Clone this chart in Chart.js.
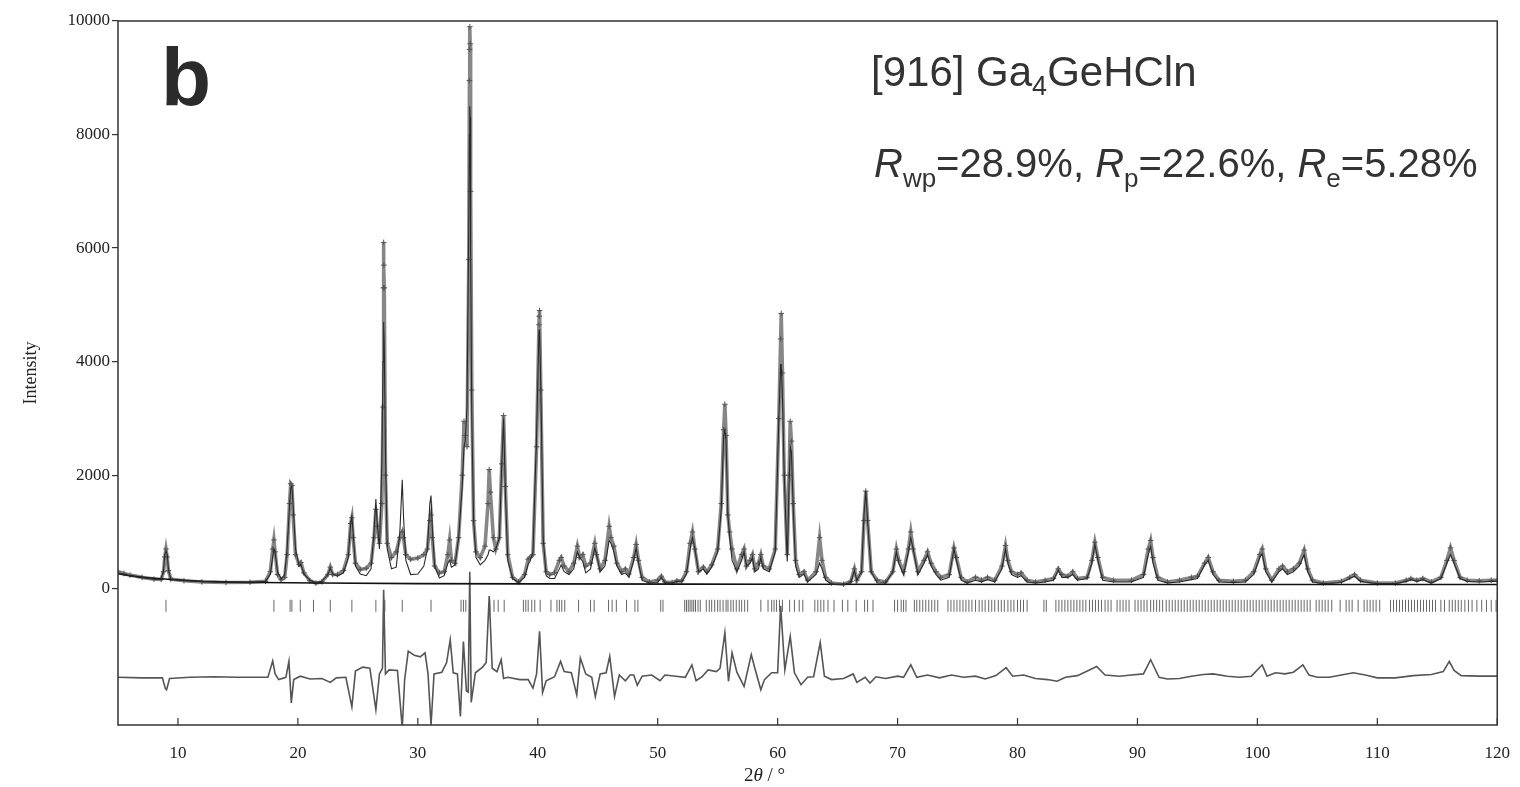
<!DOCTYPE html>
<html>
<head>
<meta charset="utf-8">
<title>[916] Ga4GeHCln</title>
<script src="https://cdn.jsdelivr.net/npm/chart.js@4.4.1/dist/chart.umd.min.js"></script>
<style>
  html, body { margin: 0; padding: 0; background: #fff; }
</style>
</head>
<body>
<canvas id="xrdChart" width="1520" height="787"></canvas>
<script>
// axis ticks
const xTickValues = [10, 20, 30, 40, 50, 60, 70, 80, 90, 100, 110, 120];
const yTickValues = [0, 2000, 4000, 6000, 8000, 10000];

// observed / calculated profile
const twoTheta = [
  5.0, 5.5, 6.0, 7.0, 8.0, 8.6, 8.8, 8.9, 9.0, 9.1, 9.2, 9.4, 10.5, 12.0, 14.0, 16.0, 17.3,
  17.7, 17.9, 18.0, 18.1, 18.3, 18.6, 18.9, 19.1, 19.3, 19.4, 19.5, 19.6, 19.8, 20.1, 20.25, 20.5,
  21.0, 21.5, 22.0, 22.5, 22.7, 22.9, 23.3, 23.8, 24.2, 24.4, 24.5, 24.6, 24.8,
  25.2, 25.7, 26.1, 26.35, 26.5, 26.6, 26.8, 27.0, 27.1, 27.13, 27.15, 27.17, 27.2, 27.3, 27.45,
  27.8, 28.2, 28.5, 28.7, 28.8, 29.0, 29.4, 30.0, 30.5, 30.8, 31.0, 31.1, 31.2, 31.4, 31.8,
  32.2, 32.5, 32.65, 32.8, 33.1, 33.4, 33.7, 33.85, 33.95, 34.1, 34.25, 34.3, 34.32, 34.34, 34.36,
  34.4, 34.5, 34.65, 34.85, 35.2, 35.6, 35.85, 35.95, 36.05, 36.3, 36.5, 36.8, 37.0, 37.15, 37.3, 37.5, 37.9,
  38.4, 38.9, 39.2, 39.35, 39.6, 39.9, 40.1, 40.12, 40.15, 40.25, 40.45, 40.7, 41.0, 41.4, 41.8, 41.95,
  42.2, 42.6, 43.0, 43.3, 43.5, 43.75, 44.0, 44.4, 44.75, 44.9, 45.2, 45.6, 45.95, 46.1, 46.35, 46.6,
  47.0, 47.3, 47.6, 48.0, 48.2, 48.4, 48.7,
  49.3, 50.0, 50.3, 50.6, 51.2, 51.6, 52.0, 52.4, 52.7, 52.9, 53.1, 53.4, 53.8, 54.1, 54.5, 55.0,
  55.3, 55.5, 55.6, 55.7, 55.85, 56.0, 56.2, 56.6, 57.0, 57.2, 57.4, 57.7, 57.9, 58.1, 58.4, 58.6,
  58.8, 59.3, 59.8,
  60.1, 60.25, 60.3, 60.4, 60.55, 60.8, 60.95, 61.05, 61.15, 61.3, 61.5, 61.8, 62.2, 62.5, 63.2,
  63.5, 63.7, 64.0, 64.5, 65.5, 66.1, 66.4, 66.6, 67.0, 67.2, 67.35, 67.5, 67.8, 68.3,
  69.0, 69.6, 69.9, 70.1, 70.5, 70.9, 71.1, 71.3, 71.7, 72.2, 72.5, 72.8, 73.2, 73.6, 74.3, 74.7,
  74.9, 75.3, 75.8, 76.5, 77.0, 77.5, 78.1, 78.7, 79.0, 79.2, 79.5, 80.0, 80.3, 80.8, 81.5, 82.3,
  83.0, 83.4, 83.7, 84.2, 84.6, 85.0, 85.8,
  86.2, 86.45, 86.7, 87.1, 88.0, 89.5, 90.5, 90.9, 91.1, 91.3, 91.7, 92.5, 93.5, 94.5, 95.0, 95.6,
  95.9, 96.3, 96.8, 98.0, 99.0, 99.7, 100.2, 100.4, 100.7, 101.2, 101.8, 102.1, 102.5, 103.0, 103.5,
  103.9, 104.2, 104.6, 105.5, 107.0, 107.7, 108.1, 108.6, 110.0, 111.5, 112.4, 112.8, 113.3, 113.8,
  114.5, 115.3, 115.8, 116.1, 116.4, 116.9, 117.5, 118.5, 119.5, 120.0
];
const yObs = [
  300, 270, 240, 200, 170, 165, 300, 560, 700, 560, 320, 170, 140, 120, 110, 115, 130,
  300, 700, 860, 650, 250, 160, 200, 600, 1500, 1850, 1820, 1300, 600, 430, 460, 280,
  140, 100, 120, 250, 380, 250, 250, 320, 600, 1150, 1250, 900, 450,
  340, 360, 450, 900, 1400, 1100, 800, 1500, 3200, 5300, 6100, 5700, 5300, 2000, 800,
  550, 650, 900, 1000, 900, 600, 520, 540, 600, 700, 1200, 1300, 900, 400, 280,
  300, 600, 860, 500, 450, 900, 2000, 2950, 2700, 2500, 5800, 8950, 9500, 9900, 9600,
  7000, 3500, 1200, 650, 550, 750, 1500, 2100, 1700, 900, 700, 900, 2200, 3050, 1800, 600, 200,
  120, 250, 520, 550, 600, 2500, 4650, 4800, 4900, 3500, 800, 300, 250, 280, 500, 550,
  400, 300, 450, 750, 550, 600, 400, 450, 800, 600, 350, 500, 1100, 900, 750, 450,
  300, 350, 260, 550, 780, 500, 200,
  120, 150, 220, 120, 110, 140, 140, 300, 800, 1000, 700, 300, 380, 300, 420, 700,
  1500, 2800, 3250, 2700, 1300, 1000, 700, 350, 600, 700, 400, 500, 600, 350, 450, 600,
  400, 350, 700,
  3000, 4400, 4850, 3800, 2000, 600, 2000, 2950, 2600, 1500, 500, 250, 300, 150, 300,
  900, 500, 200, 100, 80, 130, 350, 150, 300, 1200, 1720, 1200, 300, 150,
  120, 300, 700, 500, 300, 700, 1000, 700, 300, 500, 650, 450, 300, 200, 250, 720,
  550, 200, 120, 200, 150, 200, 150, 400, 760, 500, 300, 250, 280, 150, 120, 150,
  180, 350, 250, 220, 300, 180, 200,
  500, 820, 550, 200, 150, 150, 250, 700, 850, 550, 200, 120, 150, 200, 220, 450,
  550, 300, 150, 130, 150, 300, 600, 700, 350, 150, 350, 400, 300, 350, 450,
  680, 350, 150, 100, 130, 200, 250, 150, 100, 100, 150, 180, 150, 180,
  120, 200, 500, 720, 500, 200, 150, 140, 150, 150
];
const yCalc = [
  270, 250, 230, 195, 170, 165, 330, 600, 660, 610, 360, 170, 145, 125, 115, 115, 130,
  260, 560, 700, 640, 300, 170, 250, 700, 1450, 1780, 1800, 1500, 700, 400, 420, 260,
  150, 110, 130, 250, 360, 260, 220, 280, 550, 1150, 1270, 1000, 400,
  260, 230, 350, 1000, 1580, 1200, 700, 2200, 4000, 4600, 4700, 4650, 4300, 2400, 700,
  350, 380, 1000, 1920, 1300, 500, 250, 260, 400, 700, 1500, 1640, 1100, 400, 190,
  230, 450, 500, 380, 420, 900, 1800, 2500, 2600, 3200, 6500, 8000, 8400, 8500, 8300,
  6000, 3000, 1200, 550, 420, 500, 600, 680, 680, 650, 700, 900, 2200, 3000, 1700, 500, 180,
  110, 200, 430, 480, 650, 2700, 4550, 4560, 4550, 3600, 900, 230, 180, 180, 350, 420,
  300, 250, 350, 650, 550, 480, 280, 350, 720, 600, 300, 400, 850, 800, 650, 400,
  250, 280, 200, 500, 720, 450, 150,
  100, 110, 200, 110, 100, 130, 120, 260, 700, 900, 700, 300, 350, 260, 380, 650,
  1400, 2700, 2800, 2600, 1300, 900, 500, 300, 500, 650, 400, 450, 550, 300, 350, 550,
  350, 300, 650,
  3000, 3950, 3950, 3400, 2000, 480, 1800, 2500, 2400, 1400, 400, 200, 260, 120, 250,
  450, 350, 150, 80, 75, 110, 320, 150, 300, 1300, 1720, 1200, 300, 100,
  100, 300, 650, 450, 250, 650, 900, 700, 250, 450, 600, 400, 250, 150, 200, 700,
  500, 150, 100, 150, 120, 160, 120, 350, 700, 450, 250, 200, 230, 120, 100, 120,
  150, 330, 200, 200, 250, 150, 180,
  450, 780, 500, 150, 120, 120, 200, 600, 750, 450, 150, 100, 120, 160, 180, 420,
  500, 250, 120, 110, 120, 250, 550, 620, 300, 120, 300, 350, 250, 300, 400,
  600, 300, 120, 90, 110, 180, 220, 130, 90, 90, 130, 160, 130, 160,
  100, 180, 450, 600, 450, 180, 130, 120, 130, 130
];

// refined background
const bgTheta = [5, 6, 8, 10, 13, 17, 22, 30, 40, 60, 90, 120];
const bgVal = [265, 230, 185, 155, 125, 110, 100, 90, 85, 80, 75, 75];

// difference curve (plotted with its offset)
const diffTheta = [
  5, 7, 8.7, 8.95, 9.05, 9.3, 11, 13, 15, 17.5, 17.9, 18.1, 18.4, 19.0, 19.25, 19.45, 19.65,
  20.2, 21, 22, 22.7, 23.2, 24.0, 24.5, 24.8, 25.4, 26.0, 26.5, 26.8, 27.05, 27.15, 27.3, 27.6,
  28.3, 28.7, 28.9, 29.2, 29.7, 30.2, 30.6, 30.85, 31.1, 31.35, 32.0, 32.4, 32.7, 32.95, 33.3,
  33.55, 33.8, 34.05, 34.2, 34.33, 34.45, 34.8, 35.4, 35.7, 35.95, 36.2, 36.6, 36.95, 37.15,
  37.5, 38.5, 39.2, 39.6, 39.9, 40.15, 40.4, 40.7, 41.4, 41.9, 42.2, 42.8, 43.25, 43.55, 44.0,
  44.5, 44.8, 45.2, 45.7, 46.0, 46.4, 46.8, 47.3, 47.7, 48.0, 48.3, 48.7, 49.5, 50.2, 50.6,
  51.5, 52.3, 52.85, 53.2, 53.7, 54.2, 54.9, 55.2, 55.6, 55.9, 56.2, 56.6, 57.2, 57.8, 58.1,
  58.6, 58.9, 59.5, 60.0, 60.25, 60.6, 61.05, 61.4, 61.95, 62.5, 63.0, 63.55, 63.9, 64.5, 65.5,
  66.3, 66.6, 67.3, 67.7, 68.2, 69.0, 70.0, 70.5, 71.1, 71.6, 72.5, 73.5, 74.5, 75.5, 76.5,
  77.3, 78.2, 79.05, 79.6, 80.5, 81.5, 82.5, 83.3, 84.0, 85.0, 86.6, 87.3, 88.5, 89.5, 90.5,
  91.1, 91.8, 92.5, 93.5, 94.5, 95.5, 96.3, 97.5, 98.5, 99.5, 100.4, 100.8, 101.5, 102.3,
  103.0, 103.8, 104.3, 105.0, 106.0, 107.0, 108.0, 109.0, 110.0, 111.5, 113.0, 114.5, 115.5,
  116.0, 116.4, 117.0, 118.5, 120.0
];
const diffVal = [
  -1560, -1570, -1570, -1760, -1780, -1580, -1560, -1550, -1560, -1560, -1270, -1500, -1600, -1560, -1280, -2010, -1600,
  -1540, -1590, -1580, -1650, -1570, -1560, -2080, -1450, -1380, -1400, -2130, -1500, -1400, -20, -1500, -1430,
  -1440, -2450, -1600, -1100, -1170, -1200, -1130, -1500, -2400, -1500, -1470, -1300, -900, -1480, -1500,
  -2250, -930, -1800, -1820, 300, -2000, -1480, -1380, -1300, -130, -1400, -1460, -1250, -1580,
  -1560, -1600, -1600, -1750, -1500, -750, -1830, -1620, -1550, -1280, -1460, -1480, -1870, -1220, -1500,
  -1560, -1900, -1500, -1480, -1190, -1900, -1520, -1620, -1520, -1520, -1700, -1540, -1520, -1620, -1520,
  -1540, -1560, -1340, -1620, -1550, -1430, -1460, -1400, -775, -1630, -1130, -1470, -1720, -1160, -1400,
  -1780, -1600, -1480, -1480, -300, -1430, -840, -1480, -1690, -1560, -1550, -950, -1540, -1600, -1580,
  -1500, -1650, -1560, -1660, -1550, -1580, -1540, -1560, -1340, -1560, -1520, -1570, -1520, -1560, -1540,
  -1590, -1530, -1390, -1540, -1520, -1580, -1600, -1630, -1560, -1530, -1370, -1520, -1540, -1520, -1500,
  -1250, -1560, -1590, -1580, -1540, -1510, -1500, -1540, -1560, -1540, -1340, -1540, -1480, -1500,
  -1470, -1340, -1520, -1560, -1560, -1520, -1480, -1520, -1570, -1570, -1530, -1510, -1460,
  -1280, -1440, -1530, -1540, -1540
];

// Bragg reflection positions
const braggPos = [
  9.0, 18.0, 19.35, 19.5, 20.2, 21.3, 22.7, 24.5, 26.5, 27.25, 28.7, 31.1, 33.6, 33.8, 34.0, 34.33,
  36.0, 36.35, 36.7, 37.2, 38.8, 39.0, 39.2, 39.5, 39.75, 40.2, 41.1, 41.6, 41.8, 42.0, 42.25, 43.4,
  44.4, 44.7, 45.9, 46.2, 46.55, 47.4, 48.1, 48.35, 50.25, 50.44,
  52.25, 52.4, 52.55, 52.7, 52.85, 53.0, 53.15, 53.36, 53.55, 54.05, 54.3, 54.5, 54.75, 55.0, 55.2,
  55.45, 55.7, 55.86, 56.1, 56.3, 56.55, 56.8, 57.0, 57.25, 57.5, 58.6, 59.2, 59.5, 59.7, 59.9, 60.15,
  60.4, 61.0, 61.4, 61.8, 62.1, 63.1, 63.35, 63.6, 63.85, 64.2, 64.7, 65.4, 65.85, 66.55, 67.25, 67.5,
  67.95, 69.75, 70.0, 70.3, 70.5, 70.7, 71.4, 71.6, 71.85, 72.1, 72.35, 72.6, 72.85, 73.1, 73.35,
  74.2, 74.45, 74.7, 74.95, 75.2, 75.45, 75.7, 75.95, 76.2, 76.5, 76.8, 77.05, 77.3, 77.6, 77.85,
  78.1, 78.4, 78.65, 78.9, 79.2, 79.45, 79.7, 80.0, 80.25, 80.5, 80.8, 82.2, 82.4,
  83.2, 83.45, 83.7, 83.95, 84.2, 84.45, 84.7, 84.95, 85.2, 85.45, 85.7, 86.0, 86.25, 86.5, 86.75,
  87.0, 87.3, 87.55, 87.8, 88.3, 88.55, 88.8, 89.05, 89.3, 89.8, 90.05, 90.3, 90.55, 90.8, 91.1,
  91.35, 91.6, 91.85, 92.1, 92.4, 92.65, 92.9, 93.15, 93.4, 93.65, 93.9, 94.15, 94.4, 94.65, 94.9,
  95.15, 95.4, 95.65, 95.9, 96.15, 96.4, 96.65, 96.9, 97.15, 97.4, 97.65, 97.9, 98.15, 98.4, 98.65,
  98.9, 99.15, 99.4, 99.65, 99.9, 100.15, 100.4, 100.65, 100.9, 101.15, 101.4, 101.65, 101.9,
  102.15, 102.4, 102.65, 102.9, 103.15, 103.4, 103.65, 103.9, 104.15, 104.4, 104.9, 105.15, 105.4,
  105.65, 105.9, 106.2, 106.9, 107.4, 107.65, 107.9, 108.4, 108.9, 109.15, 109.4, 109.65, 109.9,
  110.2, 111.1, 111.35, 111.6, 111.85, 112.1, 112.35, 112.6, 112.85, 113.1, 113.35, 113.6, 113.85,
  114.1, 114.35, 114.6, 114.85, 115.3, 115.6, 116.0, 116.25, 116.5, 116.75, 117.0, 117.3, 117.6,
  117.9, 118.3, 118.7, 119.1, 119.5, 119.9
];
const braggRowLevel = -300;

const serif = "'Liberation Serif', 'DejaVu Serif', serif";
const sans = "'Liberation Sans', Arial, sans-serif";

function toPoints(xs, ys) {
  return xs.map((x, i) => ({ x: x, y: ys[i] }));
}

// draws a run of text pieces (for sub-scripts and italics)
function drawRich(ctx, parts, x, y) {
  let cx = x;
  parts.forEach((p) => {
    ctx.font = (p.italic ? "italic " : "") + (p.bold ? "bold " : "") + p.size + "px " + p.family;
    ctx.fillText(p.t, cx, y + (p.dy || 0));
    cx += ctx.measureText(p.t).width;
  });
}

const decorPlugin = {
  id: "decor",
  afterDraw(chart) {
    const ctx = chart.ctx;
    const area = chart.chartArea;
    const xScale = chart.scales.x;
    ctx.save();

    // frame
    ctx.strokeStyle = "#333";
    ctx.lineWidth = 1.5;
    ctx.strokeRect(area.left, area.top, area.right - area.left, area.bottom - area.top);

    // inward x ticks
    ctx.lineWidth = 1.2;
    xTickValues.forEach((v) => {
      const px = xScale.getPixelForValue(v);
      ctx.beginPath();
      ctx.moveTo(px, area.bottom);
      ctx.lineTo(px, area.bottom - 7);
      ctx.stroke();
    });

    ctx.textBaseline = "alphabetic";
    ctx.textAlign = "left";

    // panel letter
    ctx.fillStyle = "#2b2b2b";
    ctx.font = "bold 82px " + sans;
    ctx.fillText("b", 161, 105);

    // sample label and R factors
    ctx.fillStyle = "#333";
    drawRich(ctx, [
      { t: "[916] Ga", size: 42, family: sans },
      { t: "4", size: 27, family: sans, dy: 9 },
      { t: "GeHCln", size: 42, family: sans }
    ], 871, 86);
    drawRich(ctx, [
      { t: "R", size: 40, family: sans, italic: true },
      { t: "wp", size: 26, family: sans, dy: 10 },
      { t: "=28.9%, ", size: 40, family: sans },
      { t: "R", size: 40, family: sans, italic: true },
      { t: "p", size: 26, family: sans, dy: 10 },
      { t: "=22.6%, ", size: 40, family: sans },
      { t: "R", size: 40, family: sans, italic: true },
      { t: "e", size: 26, family: sans, dy: 10 },
      { t: "=5.28%", size: 40, family: sans }
    ], 874, 177);

    // x axis title
    ctx.fillStyle = "#222";
    drawRich(ctx, [
      { t: "2", size: 19, family: serif },
      { t: "\u03b8", size: 19, family: serif, italic: true },
      { t: " / \u00b0", size: 19, family: serif }
    ], 744, 781);

    ctx.restore();
  }
};

const ctx = document.getElementById("xrdChart").getContext("2d");
new Chart(ctx, {
  type: "line",
  data: {
    datasets: [
      {
        label: "Calculated",
        data: toPoints(twoTheta, yCalc),
        borderColor: "#2a2a2a",
        borderWidth: 1.1,
        pointRadius: 0,
        tension: 0,
        order: 0
      },
      {
        label: "Observed",
        data: toPoints(twoTheta, yObs),
        borderColor: "rgba(105,105,105,0.8)",
        borderWidth: 3.6,
        pointStyle: "cross",
        pointRadius: 2.8,
        pointBorderColor: "#555",
        pointBorderWidth: 1,
        tension: 0,
        order: 3
      },
      {
        label: "Background",
        data: toPoints(bgTheta, bgVal),
        borderColor: "#111",
        borderWidth: 1.6,
        pointRadius: 0,
        cubicInterpolationMode: "monotone",
        order: 1
      },
      {
        label: "Difference",
        data: toPoints(diffTheta, diffVal),
        borderColor: "#555",
        borderWidth: 1.6,
        pointRadius: 0,
        tension: 0,
        order: 2
      },
      {
        label: "Bragg positions",
        data: braggPos.map((x) => ({ x: x, y: braggRowLevel })),
        showLine: false,
        pointStyle: "line",
        rotation: 90,
        pointRadius: 6,
        pointBorderColor: "#666",
        pointBorderWidth: 1,
        order: 2
      }
    ]
  },
  options: {
    responsive: false,
    animation: false,
    layout: { padding: { top: 21, right: 22, left: 0, bottom: 0 } },
    plugins: {
      legend: { display: false },
      tooltip: { enabled: false }
    },
    scales: {
      x: {
        type: "linear",
        min: 5,
        max: 120,
        afterBuildTicks: (scale) => {
          scale.ticks = xTickValues.map((v) => ({ value: v }));
        },
        afterFit: (scale) => {
          scale.height = 62;
        },
        grid: { display: false },
        border: { display: false },
        ticks: {
          color: "#222",
          padding: 10,
          maxRotation: 0,
          font: { family: serif, size: 17 },
          callback: (v) => String(v)
        }
      },
      y: {
        min: -2400,
        max: 10000,
        afterBuildTicks: (scale) => {
          scale.ticks = yTickValues.map((v) => ({ value: v }));
        },
        afterFit: (scale) => {
          scale.width = 118;
        },
        grid: { drawOnChartArea: false, tickLength: 6, color: "#333", lineWidth: 1.2 },
        border: { display: false },
        ticks: {
          color: "#222",
          padding: 2,
          font: { family: serif, size: 17 },
          callback: (v) => String(v)
        },
        title: {
          display: true,
          text: "Intensity",
          color: "#222",
          padding: { top: 20, bottom: 0 },
          font: { family: serif, size: 18 }
        }
      }
    }
  },
  plugins: [decorPlugin]
});
</script>
</body>
</html>
